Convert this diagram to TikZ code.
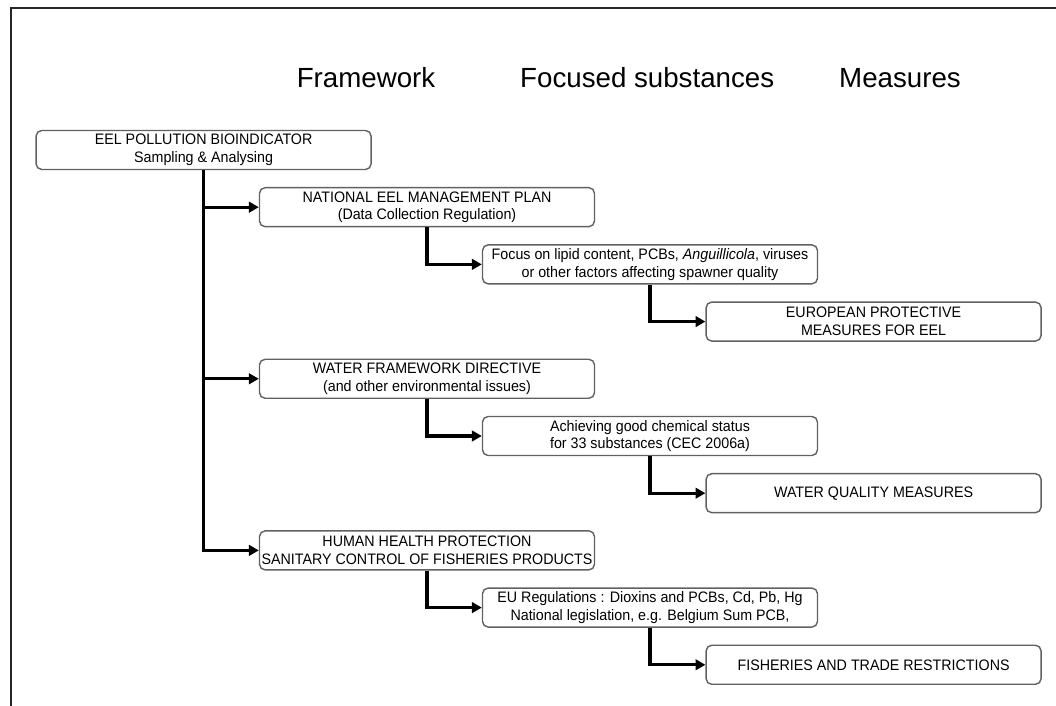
\documentclass[tikz,border=0pt]{standalone}
\usepackage{fontspec}
\setmainfont{Liberation Sans}
\newfontfamily\boxfont[FakeStretch=0.94]{Liberation Sans}
\usepackage{tikz}
\usetikzlibrary{arrows.meta,
                positioning}

\begin{document}
\begin{tikzpicture}[
  box/.style={draw=black!62,line width=1pt,rounded corners=4pt,fill=white,
    minimum width=8.375cm,minimum height=0.975cm,align=center,
    inner sep=1pt,font=\boxfont\fontsize{10.8}{12.6}\selectfont},
  link/.style={line width=2.2pt,-{Triangle[length=7pt,width=7.5pt]},
    rounded corners=0pt}]
\useasboundingbox (0,0) rectangle (26.4,17.65);
\draw[black!85,line width=1.4pt] (26.4,17.45) -- (0.275,17.45) -- (0.275,0);

\foreach \x/\t [count=\i] in{9.15/Framework,16.18/Focused substances,22.5/Measures}
  \node[anchor=base,font=\fontsize{19.7}{22}\selectfont] (head\i) at (\x,15.45) {\t};

\node[box] (root) at (5.09,13.9) {EEL POLLUTION BIOINDICATOR\\Sampling \& Analysing};

\node[box] (nat) at (10.675,12.47) {NATIONAL EEL MANAGEMENT PLAN\\(Data Collection Regulation)};
\node[box] (focus) at (16.25,11.04) {Focus on lipid content, PCBs, \textit{Anguillicola}, viruses\\or other factors affecting spawner quality};
\node[box] (eur) at (21.84,9.61) {EUROPEAN PROTECTIVE\\MEASURES FOR EEL};

\node[box] (wfd) at (10.675,8.18) {WATER FRAMEWORK DIRECTIVE\\(and other environmental issues)};
\node[box] (chem) at (16.25,6.75) {Achieving good chemical status\\for 33 substances (CEC 2006a)};
\node[box] (wq) at (21.84,5.32) {WATER QUALITY MEASURES};

\node[box] (hh) at (10.675,3.89) {HUMAN HEALTH PROTECTION\\SANITARY CONTROL OF FISHERIES PRODUCTS};
\node[box] (reg) at (16.25,2.46) {EU Regulations : Dioxins and PCBs, Cd, Pb, Hg\\National legislation, e.g. Belgium Sum PCB,};
\node[box] (fish) at (21.84,1.03) {FISHERIES AND TRADE RESTRICTIONS};

\foreach \a/\b in{root/nat,root/wfd,root/hh,nat/focus,focus/eur,wfd/chem,chem/wq,hh/reg,reg/fish}
  \draw[link] (\a.south) |- (\b.west);
\end{tikzpicture}
\end{document}
